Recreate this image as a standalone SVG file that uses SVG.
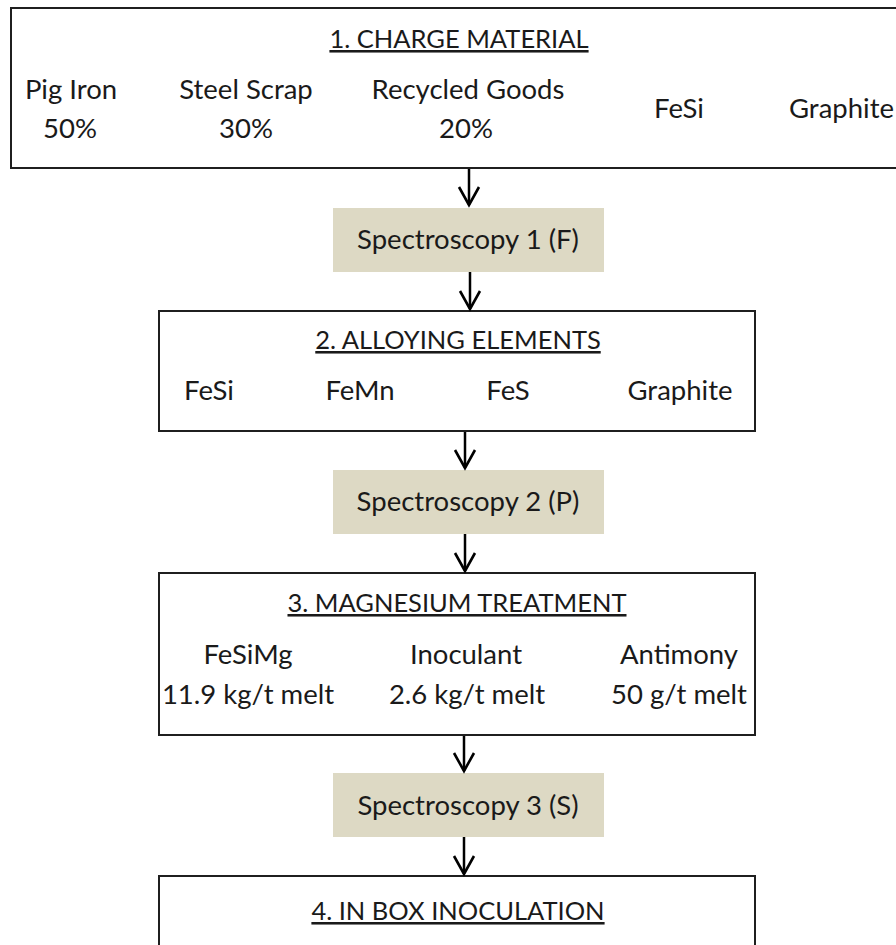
<svg xmlns="http://www.w3.org/2000/svg" width="896" height="945" viewBox="0 0 896 945">
<defs>
<style>
.box{fill:#ffffff;stroke:#1f1f1f;stroke-width:2}
.spec{fill:#DDD9C4;stroke:none}
text{font-family:Lato,"Open Sans","Liberation Sans",sans-serif;font-size:27.5px;fill:#1a1a1a}
.c{text-anchor:middle}
.t{text-decoration:underline;font-size:25.5px}
.conn{stroke:#000;stroke-width:2.5;fill:none}
</style>
<marker id="chev" viewBox="-21 -12 24 24" refX="0" refY="0" markerWidth="24" markerHeight="24" markerUnits="userSpaceOnUse" orient="auto">
<path d="M-18,-10 L0,0 L-18,10" fill="none" stroke="#000" stroke-width="2.6" stroke-linejoin="miter"/>
</marker>
</defs>
<rect width="896" height="945" fill="#ffffff"/>
<g id="charge-material">
<rect class="box" x="11" y="8" width="900" height="160"/>
<text class="c t" x="459" y="48">1. CHARGE MATERIAL</text>
<text class="c" x="71" y="99">Pig Iron</text>
<text class="c" x="70" y="138">50%</text>
<text class="c" x="246" y="99">Steel Scrap</text>
<text class="c" x="246" y="138">30%</text>
<text class="c" x="468" y="99">Recycled Goods</text>
<text class="c" x="466" y="138">20%</text>
<text class="c" x="679" y="118">FeSi</text>
<text x="789" y="118">Graphite</text>
</g>
<g id="spectroscopy-1">
<rect class="spec" x="333" y="208" width="271" height="64"/>
<text class="c" x="468" y="249">Spectroscopy 1 (F)</text>
</g>
<g id="alloying-elements">
<rect class="box" x="159" y="311" width="596" height="120"/>
<text class="c t" x="458" y="349">2. ALLOYING ELEMENTS</text>
<text class="c" x="209" y="400">FeSi</text>
<text class="c" x="360" y="400">FeMn</text>
<text class="c" x="508" y="400">FeS</text>
<text class="c" x="680" y="400">Graphite</text>
</g>
<g id="spectroscopy-2">
<rect class="spec" x="333" y="470" width="271" height="64"/>
<text class="c" x="468" y="511">Spectroscopy 2 (P)</text>
</g>
<g id="magnesium-treatment">
<rect class="box" x="159" y="573" width="596" height="162"/>
<text class="c t" x="457" y="612">3. MAGNESIUM TREATMENT</text>
<text class="c" x="248" y="664">FeSiMg</text>
<text class="c" x="248" y="704">11.9 kg/t melt</text>
<text class="c" x="466" y="664">Inoculant</text>
<text class="c" x="467" y="704">2.6 kg/t melt</text>
<text class="c" x="679" y="664">Antimony</text>
<text class="c" x="679" y="704">50 g/t melt</text>
</g>
<g id="spectroscopy-3">
<rect class="spec" x="333" y="773" width="271" height="64"/>
<text class="c" x="468" y="815">Spectroscopy 3 (S)</text>
</g>
<g id="in-box-inoculation">
<rect class="box" x="159" y="876" width="596" height="80"/>
<text class="c t" x="458" y="920">4. IN BOX INOCULATION</text>
</g>
<g id="connectors">
<line class="conn" x1="469" y1="169" x2="469" y2="205" marker-end="url(#chev)"/>
<line class="conn" x1="470" y1="272" x2="470" y2="309" marker-end="url(#chev)"/>
<line class="conn" x1="465" y1="432" x2="465" y2="468" marker-end="url(#chev)"/>
<line class="conn" x1="465" y1="534" x2="465" y2="571" marker-end="url(#chev)"/>
<line class="conn" x1="464" y1="736" x2="464" y2="771" marker-end="url(#chev)"/>
<line class="conn" x1="464" y1="837" x2="464" y2="874" marker-end="url(#chev)"/>
</g>
</svg>
